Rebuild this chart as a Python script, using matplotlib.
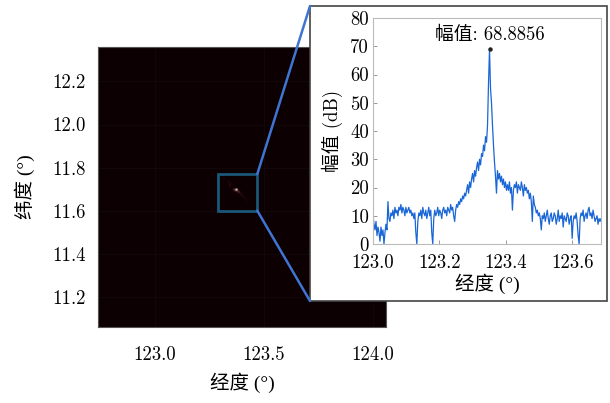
import matplotlib
matplotlib.use("Agg")
import matplotlib.pyplot as plt
import numpy as np
from matplotlib.colors import LinearSegmentedColormap
from matplotlib.patches import Rectangle, ConnectionPatch

plt.rcParams['font.family'] = ['cmr10', 'Noto Sans CJK SC']
plt.rcParams['axes.unicode_minus'] = False
# cmr10 has no degree sign, so labels with ° use a serif that does
label_font = ['Liberation Serif', 'Noto Sans CJK SC']

# map extent (deg)
lon_range = (122.74, 124.06)
lat_range = (11.06, 12.36)
cell = 0.01

# bright streak of the target on the map
streak_lon = [123.32, 123.33, 123.34, 123.35, 123.36, 123.37, 123.38, 123.39, 123.40, 123.41, 123.42]
streak_lat = [11.74, 11.73, 11.72, 11.71, 11.70, 11.69, 11.68, 11.67, 11.66, 11.65, 11.64]
streak_val = [0.08, 0.12, 0.18, 0.25, 0.45, 1.00, 0.45, 0.25, 0.18, 0.12, 0.08]

# zoomed window
box_lon = (123.29, 123.47)
box_lat = (11.60, 11.77)

# amplitude profile along longitude through the target (dB)
lon_start = 123.0
lon_step = 0.003
amp = [
    10, 7, 5, 8, 3, 6, 4, 1, 6, 3, 5, 0, 4, 7, 5,
    15, 9,
    8, 11, 10, 12, 9, 13, 11, 12, 10, 13, 12, 14, 11, 13, 12, 10, 13, 11, 12, 13, 11, 12, 10, 11,
    9, 11, 4, 0,
    8, 11, 10, 12, 9, 13, 11, 10, 12, 9, 11, 13, 10, 12, 4, 0,
    9, 12, 10, 11, 13, 10, 12, 11, 9, 12, 13, 11, 12, 10, 13, 12, 11, 14, 12, 13, 10, 8, 12, 14,
    13, 15, 14, 16, 15, 17, 16, 18, 17, 19, 21, 18, 22, 20, 23, 25,
    22, 26, 24, 27, 29, 26, 30, 28, 32, 31, 35, 33, 38, 36,
    42, 57, 68.8856,
    55, 50, 42, 35, 29,
    24, 18, 26, 23, 25, 22, 24, 21, 23, 20, 22, 19,
    21, 19, 22, 18, 20, 12, 19, 21, 20, 22, 18, 21, 20, 19, 22, 20, 17, 21, 19, 20, 18, 19, 16, 18, 15, 8,
    17, 14, 13, 11, 12, 10, 11, 9, 5, 10,
    9, 11, 8, 10, 12, 9, 7, 10, 11, 8, 9, 11, 10, 7, 9, 12, 8, 10, 9, 11, 6, 10, 9, 8, 11, 10, 7, 9, 10,
    2, 8, 10, 9, 11, 8, 3, 0, 9, 11, 10, 12, 8, 10, 11, 9, 12, 13, 10, 11, 9, 12, 10, 8, 9, 10, 7, 9, 8, 9,
]
amp = np.array(amp, dtype=float)
lon = lon_start + lon_step * np.arange(len(amp))
ipk = int(np.argmax(amp))

# build the map image
nx = int(round((lon_range[1] - lon_range[0]) / cell))
ny = int(round((lat_range[1] - lat_range[0]) / cell))
img = np.zeros((ny, nx))
for lo, la, v in zip(streak_lon, streak_lat, streak_val):
    c = int((lo - lon_range[0]) / cell)
    r = int((lat_range[1] - la) / cell)
    img[r, c] = v

cmap = LinearSegmentedColormap.from_list(
    'dark', ['#0d0003', '#3a0d14', '#a05a60', '#f4d8d0'])

fig = plt.figure(figsize=(6.1, 4.03), dpi=100)
ax = fig.add_axes([0.1607, 0.1886, 0.4721, 0.6948])
ax.imshow(img, cmap=cmap, vmin=0, vmax=1, aspect='auto', interpolation='bilinear',
          extent=[lon_range[0], lon_range[1], lat_range[0], lat_range[1]])
ax.set_xlim(lon_range)
ax.set_ylim(lat_range)
ax.set_xticks([123.0, 123.5, 124.0])
ax.set_yticks([11.2, 11.4, 11.6, 11.8, 12.0, 12.2])
ax.xaxis.set_major_formatter(matplotlib.ticker.FormatStrFormatter('%.1f'))
ax.yaxis.set_major_formatter(matplotlib.ticker.FormatStrFormatter('%.1f'))
ax.tick_params(axis='x', length=0, pad=14, labelsize=13.5)
ax.tick_params(axis='y', length=0, pad=9, labelsize=13.5)
ax.grid(True, color='#1c1c1c', linewidth=0.5, alpha=0.4)
for s in ax.spines.values():
    s.set_color('#555555')
    s.set_linewidth(0.8)
ax.set_xlabel('经度 (°)', fontsize=14, family=label_font, labelpad=6)
ax.set_ylabel('纬度 (°)', fontsize=14, family=label_font, labelpad=12)

ax.add_patch(Rectangle((box_lon[0], box_lat[0]), box_lon[1] - box_lon[0],
                       box_lat[1] - box_lat[0], fill=False,
                       edgecolor='#1b5878', linewidth=2, zorder=5))

# white frame behind the inset
frame = [0.5082, 0.2531, 0.4869, 0.732]
fig.patches.append(Rectangle((frame[0], frame[1]), frame[2], frame[3],
                             transform=fig.transFigure, facecolor='white',
                             edgecolor='#444444', linewidth=1.2, zorder=3))

for corner_box, corner_frame in [((box_lon[1], box_lat[1]), (frame[0], frame[1] + frame[3])),
                                 ((box_lon[1], box_lat[0]), (frame[0], frame[1]))]:
    con = ConnectionPatch(xyA=corner_box, coordsA=ax.transData,
                          xyB=corner_frame, coordsB=fig.transFigure,
                          color='#3f74d2', linewidth=1.8, zorder=4)
    fig.add_artist(con)

ins = fig.add_axes([0.6115, 0.3945, 0.3738, 0.5608])
ins.set_zorder(6)
ins.plot(lon, amp, color='#1a66d6', linewidth=0.9)
ins.plot(lon[ipk], amp[ipk], 'o', color='#222222', markersize=2.2)
ins.annotate(f'幅值: {amp[ipk]:.4f}', (lon[ipk], amp[ipk]), xytext=(0, 4),
             textcoords='offset points', ha='center', va='bottom', fontsize=13.5)
ins.set_xlim(123.0, lon[-1])
ins.set_ylim(0, 80)
ins.set_xticks([123.0, 123.2, 123.4, 123.6])
ins.set_yticks(np.arange(0, 81, 10))
ins.xaxis.set_major_formatter(matplotlib.ticker.FormatStrFormatter('%.1f'))
ins.tick_params(direction='in', length=3, width=0.6, color='#888888', labelsize=13.5)
ins.tick_params(axis='x', pad=7)
ins.tick_params(axis='y', pad=3)
for s in ins.spines.values():
    s.set_color('#bbbbbb')
    s.set_linewidth(0.8)
ins.set_xlabel('经度 (°)', fontsize=14, family=label_font, labelpad=1)
ins.set_ylabel('幅值 (dB)', fontsize=13.5, labelpad=5)

fig.savefig('out.png', dpi=100)
